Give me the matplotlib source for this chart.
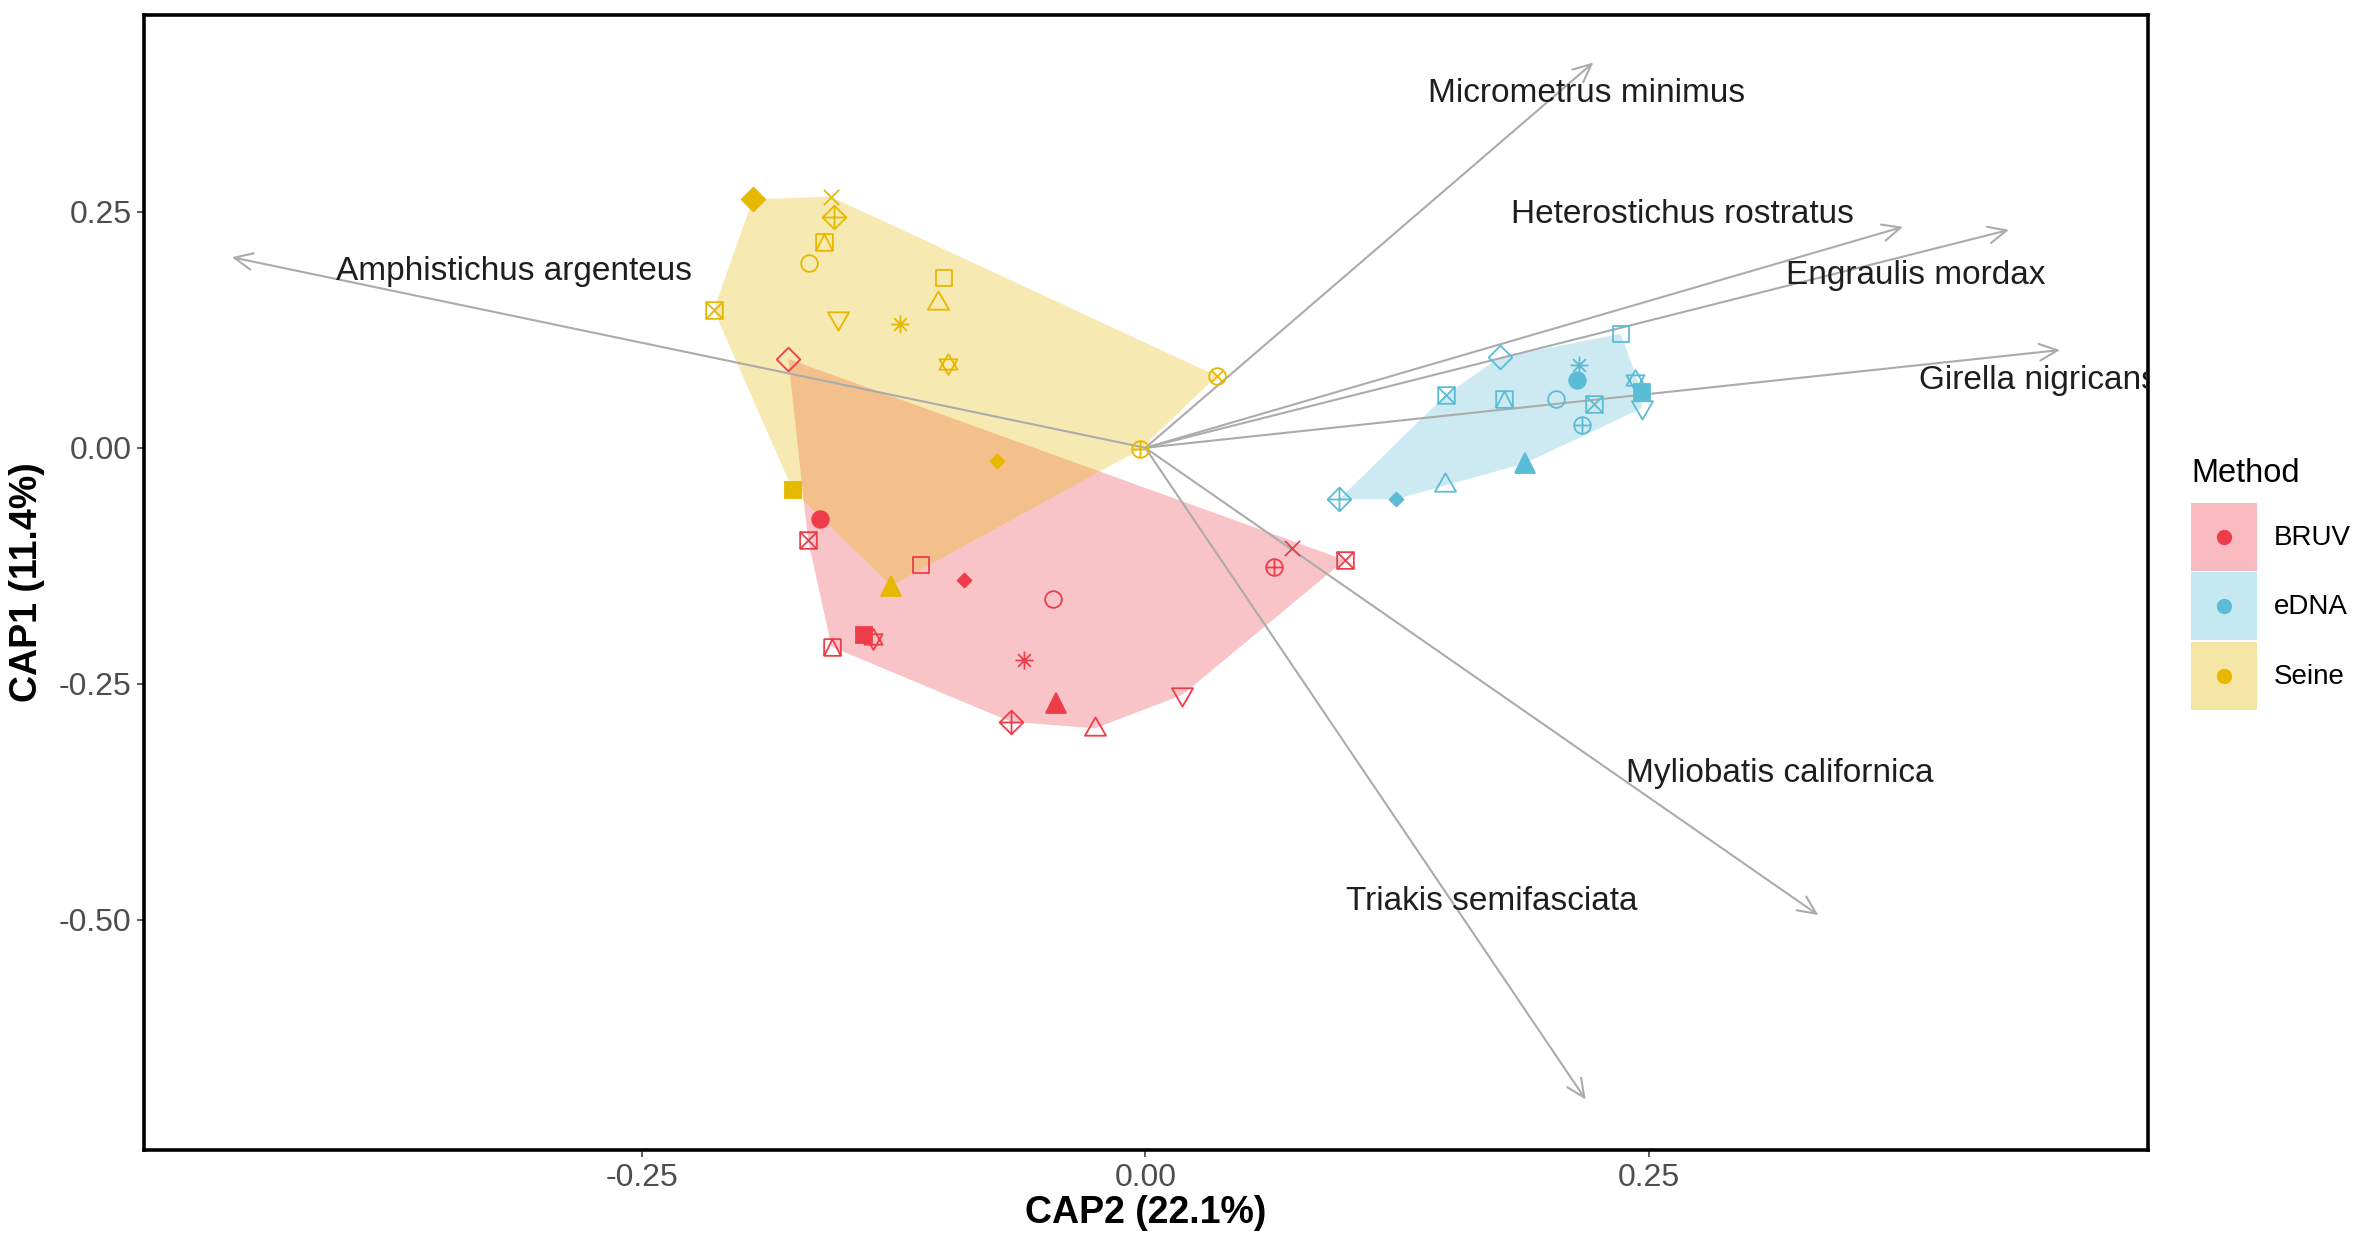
import numpy as np
import matplotlib.pyplot as plt
from matplotlib.path import Path
from matplotlib.patches import Polygon, Patch, Rectangle, FancyArrowPatch
from matplotlib.lines import Line2D
from matplotlib.legend_handler import HandlerBase

plt.rcParams['font.family'] = ['Liberation Sans', 'DejaVu Sans']

# CAP site scores per method (CAP2 on x, CAP1 on y) and the symbol used for each site
methods = ['BRUV', 'eDNA', 'Seine']
colors = {'BRUV': '#EE3D4A', 'eDNA': '#5BBCD6', 'Seine': '#E6B800'}

bruv_x = [-0.1772, -0.1616, -0.1674, -0.1113, -0.0899, -0.0460, -0.1395, -0.1351, -0.1557,
          -0.0604, -0.0444, -0.0668, -0.0249, 0.0182, 0.0641, 0.0730, 0.0991]
bruv_y = [0.0941, -0.0753, -0.0978, -0.1242, -0.1401, -0.1606, -0.1982, -0.2029, -0.2107,
          -0.2248, -0.2707, -0.2901, -0.2971, -0.2619, -0.1266, -0.1066, -0.1189]
bruv_shape = ['diamond', 'circle_f', 'square_x', 'square', 'diamond_fs', 'circle', 'square_f',
              'star_david', 'square_tri', 'asterisk', 'triangle_f', 'diamond_plus', 'triangle',
              'triangle_down', 'circle_plus', 'cross', 'square_x']

edna_x = [0.0963, 0.1243, 0.1488, 0.1884, 0.1491, 0.1760, 0.1781, 0.2039, 0.2141, 0.2155,
          0.2166, 0.2227, 0.2360, 0.2431, 0.2464, 0.2464]
edna_y = [-0.0543, -0.0545, -0.0383, -0.0165, 0.0559, 0.0958, 0.0513, 0.0513, 0.0718, 0.0877,
          0.0240, 0.0460, 0.1205, 0.0718, 0.0595, 0.0418]
edna_shape = ['diamond_plus', 'diamond_fs', 'triangle', 'triangle_f', 'square_x', 'diamond',
              'square_tri', 'circle', 'circle_f', 'asterisk', 'circle_plus', 'square_x', 'square',
              'star_david', 'square_f', 'triangle_down']

seine_x = [-0.1948, -0.1562, -0.1544, -0.1595, -0.1667, -0.2142, -0.0998, -0.1029, -0.1524,
           -0.1216, -0.0980, 0.0355, -0.0024, -0.0736, -0.1749, -0.1262]
seine_y = [0.2631, 0.2660, 0.2449, 0.2183, 0.1955, 0.1460, 0.1795, 0.1548, 0.1362, 0.1314,
           0.0888, 0.0761, -0.0016, -0.0136, -0.0449, -0.1460]
seine_shape = ['diamond_f', 'cross', 'diamond_plus', 'square_tri', 'circle', 'square_x', 'square',
               'triangle', 'triangle_down', 'asterisk', 'star_david', 'circle_cross', 'circle_plus',
               'diamond_fs', 'square_f', 'triangle_f']

# species vectors: arrow tips and label positions
species = ['Amphistichus argenteus', 'Micrometrus minimus', 'Heterostichus rostratus',
           'Engraulis mordax', 'Girella nigricans', 'Myliobatis californica', 'Triakis semifasciata']
arrow_x = [-0.4534, 0.2224, 0.3761, 0.4287, 0.4540, 0.3341, 0.2186]
arrow_y = [0.2018, 0.4080, 0.2340, 0.2308, 0.1035, -0.4949, -0.6902]
label_x = [-0.3134, 0.2188, 0.2665, 0.3825, 0.4433, 0.3149, 0.1720]
label_y = [0.1865, 0.3750, 0.2468, 0.1827, 0.0708, -0.3446, -0.4808]

site_data = {
    'BRUV': (bruv_x, bruv_y, bruv_shape),
    'eDNA': (edna_x, edna_y, edna_shape),
    'Seine': (seine_x, seine_y, seine_shape),
}


# R-style plotting symbols built from paths
def closed(verts):
    return Path(verts + [verts[0]], [Path.MOVETO] + [Path.LINETO] * (len(verts) - 1) + [Path.CLOSEPOLY])


def segments(*segs):
    verts, codes = [], []
    for seg in segs:
        verts += list(seg)
        codes += [Path.MOVETO] + [Path.LINETO] * (len(seg) - 1)
    return Path(verts, codes)


SQUARE = closed([(-1, -1), (1, -1), (1, 1), (-1, 1)])
CIRCLE = Path.unit_circle()
DIAMOND = closed([(0, 1), (1, 0), (0, -1), (-1, 0)])
TRI_UP = closed([(0, 1), (0.95, -0.65), (-0.95, -0.65)])
TRI_DOWN = closed([(0, -1), (0.95, 0.65), (-0.95, 0.65)])
PLUS = segments([(-1, 0), (1, 0)], [(0, -1), (0, 1)])
CROSS = segments([(-1, -1), (1, 1)], [(-1, 1), (1, -1)])
CROSS_IN = segments([(-0.707, -0.707), (0.707, 0.707)], [(-0.707, 0.707), (0.707, -0.707)])
compound = Path.make_compound_path

MARKERS = {
    # name: (path, size, filled)
    'square': (SQUARE, 12, False),
    'circle': (CIRCLE, 12, False),
    'triangle': (TRI_UP, 16, False),
    'triangle_down': (TRI_DOWN, 16, False),
    'diamond': (DIAMOND, 17, False),
    'cross': (CROSS, 11, False),
    'asterisk': (compound(PLUS, CROSS_IN), 13, False),
    'square_x': (compound(SQUARE, CROSS), 12, False),
    'square_tri': (compound(SQUARE, segments([(-1, -1), (0, 1), (1, -1)])), 12, False),
    'diamond_plus': (compound(DIAMOND, PLUS), 17, False),
    'circle_plus': (compound(CIRCLE, PLUS), 12, False),
    'circle_cross': (compound(CIRCLE, CROSS_IN), 12, False),
    'star_david': (compound(closed([(0, 1), (0.87, -0.5), (-0.87, -0.5)]),
                            closed([(0, -1), (0.87, 0.5), (-0.87, 0.5)])), 15, False),
    'square_f': ('s', 11, True),
    'circle_f': ('o', 12, True),
    'triangle_f': ('^', 14, True),
    'diamond_f': (DIAMOND, 17, True),
    'diamond_fs': (DIAMOND, 10, True),
}


def convex_hull(xs, ys):
    pts = sorted(set(zip(xs, ys)))

    def cross(o, a, b):
        return (a[0] - o[0]) * (b[1] - o[1]) - (a[1] - o[1]) * (b[0] - o[0])

    lower, upper = [], []
    for p in pts:
        while len(lower) >= 2 and cross(lower[-2], lower[-1], p) <= 0:
            lower.pop()
        lower.append(p)
    for p in reversed(pts):
        while len(upper) >= 2 and cross(upper[-2], upper[-1], p) <= 0:
            upper.pop()
        upper.append(p)
    return lower[:-1] + upper[:-1]


class MethodKey(HandlerBase):
    """Shaded key box with the method's point in the middle."""

    def create_artists(self, legend, orig_handle, xdescent, ydescent, width, height,
                       fontsize, trans):
        col = orig_handle.get_facecolor()
        box = Rectangle((-xdescent, -ydescent), width, height, facecolor=col, alpha=0.35,
                        edgecolor='none', transform=trans)
        dot = Line2D([-xdescent + width / 2], [-ydescent + height / 2], ls='none', marker='o',
                     ms=10, color=col, transform=trans)
        return [box, dot]


fig = plt.figure(figsize=(23.72, 12.36), dpi=100)
ax = fig.add_axes([144 / 2372, 1 - 1150 / 1236, 2004 / 2372, 1135 / 1236])

# hulls
for m in methods:
    xs, ys, _ = site_data[m]
    ax.add_patch(Polygon(convex_hull(xs, ys), closed=True, facecolor=colors[m],
                         alpha=0.3, edgecolor='none', zorder=1))

# species arrows
for sx, sy in zip(arrow_x, arrow_y):
    ax.add_patch(FancyArrowPatch((0, 0), (sx, sy), arrowstyle='->,head_length=0.65,head_width=0.3',
                                 mutation_scale=20, color='#ABABAB', lw=1.5,
                                 shrinkA=0, shrinkB=0, zorder=2))

# site points
for m in methods:
    xs, ys, shapes = site_data[m]
    for x, y, s in zip(xs, ys, shapes):
        marker, size, filled = MARKERS[s]
        ax.plot([x], [y], ls='none', marker=marker, ms=size, mec=colors[m],
                mfc=colors[m] if filled else 'none', mew=1.3, zorder=3)

for name, lx, ly in zip(species, label_x, label_y):
    ax.text(lx, ly, name, fontsize=24, color='#1E1E1E', ha='center', va='center',
            clip_on=True, zorder=4)

ax.set_xlim(-0.497, 0.4977)
ax.set_ylim(-0.7436, 0.4583)
ax.set_xticks([-0.25, 0, 0.25])
ax.set_yticks([-0.5, -0.25, 0, 0.25])
ax.set_xticklabels(['-0.25', '0.00', '0.25'])
ax.set_yticklabels(['-0.50', '-0.25', '0.00', '0.25'])
ax.tick_params(labelsize=23, labelcolor='#4D4D4D', color='#333333', length=5, width=1.1, pad=4)
for sp in ax.spines.values():
    sp.set_linewidth(2.6)
    sp.set_color('black')

ax.set_xlabel('CAP2 (22.1%)', fontsize=27, fontweight='bold', va='center')
ax.set_ylabel('CAP1 (11.4%)', fontsize=27, fontweight='bold', va='center')
ax.xaxis.set_label_coords(0.5, (1150 - 1213) / 1135)
ax.yaxis.set_label_coords((27 - 144) / 2004, 0.5)

# legend
handles = [Patch(facecolor=colors[m]) for m in methods]
leg = ax.legend(handles, methods, handler_map={Patch: MethodKey()},
                title='Method', fontsize=20, title_fontsize=23.5, frameon=False,
                loc='upper left', bbox_to_anchor=(2191 / 2372, 1 - 458 / 1236),
                bbox_transform=fig.transFigure, alignment='left', borderpad=0,
                borderaxespad=0, handlelength=2.37, handleheight=3.39,
                labelspacing=0.05, handletextpad=0.6)
leg._legend_box.sep = 10

fig.savefig('out.png', dpi=100)
